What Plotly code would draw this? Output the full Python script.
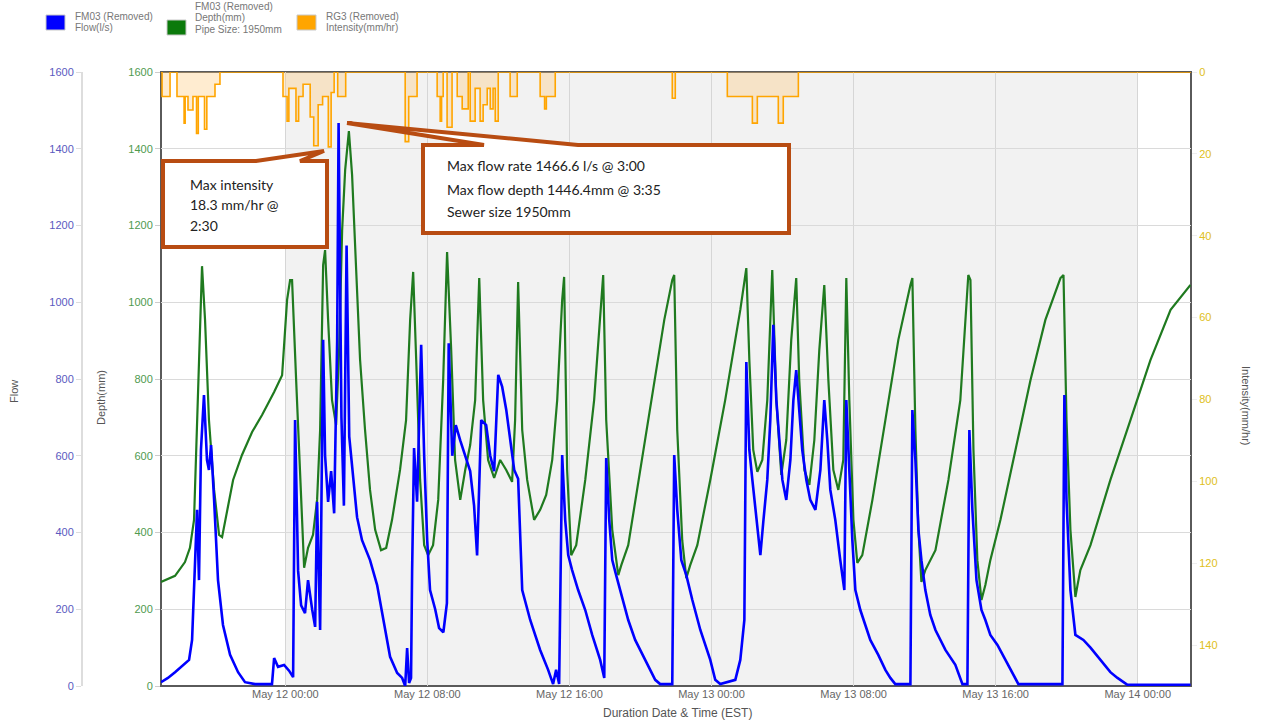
import pandas as pd
import plotly.graph_objects as go

# ---------------- data ----------------
START = "2019-05-11 17:00"          # time origin for the hour offsets below
END = "2019-05-14 03:00"
BAND = ["2019-05-12 00:00", "2019-05-14 00:00"]

depth_hours = [0.00, 0.79, 1.35, 1.63, 1.86, 2.03, 2.20, 2.31, 2.48, 2.70, 2.99, 3.27, 3.44, 3.72, 4.06, 4.56,
               5.13, 5.69, 6.37, 6.82, 7.10, 7.27, 7.38, 7.61, 7.83, 8.06, 8.28, 8.56, 8.79, 8.96, 9.13, 9.24,
               9.41, 9.63, 9.86, 10.03, 10.20, 10.37, 10.58, 10.76, 10.99, 11.21, 11.49, 11.77, 12.06, 12.39,
               12.68, 13.01, 13.46, 13.80, 14.03, 14.20, 14.37, 14.59, 14.82, 15.04, 15.32, 15.61, 15.89, 16.11,
               16.34, 16.56, 16.85, 17.13, 17.41, 17.69, 17.92, 18.14, 18.42, 18.76, 19.10, 19.44, 19.77, 19.94,
               20.11, 20.34, 20.62, 21.01, 21.35, 21.69, 22.03, 22.31, 22.59, 22.70, 22.87, 23.10, 23.38, 23.89,
               24.39, 24.73, 24.90, 25.07, 25.41, 25.75, 25.92, 26.31, 26.99, 27.66, 28.34, 28.79, 28.90, 29.07,
               29.35, 29.58, 29.80, 30.20, 30.93, 31.77, 32.62, 32.96, 33.13, 33.35, 33.58, 33.86, 34.14, 34.42,
               34.65, 34.93, 35.21, 35.49, 35.77, 35.94, 36.23, 36.51, 36.79, 37.07, 37.35, 37.58, 37.86, 38.14,
               38.42, 38.59, 38.76, 38.99, 39.21, 39.49, 40.06, 40.79, 41.52, 42.20, 42.31, 42.48, 42.65, 42.82,
               43.04, 43.61, 44.34, 45.01, 45.46, 45.58, 45.75, 45.97, 46.20, 46.42, 46.70, 47.27, 48.11, 48.96,
               49.80, 50.65, 50.82, 50.99, 51.21, 51.49, 51.61, 51.77, 52.34, 53.46, 54.59, 55.72, 56.85, 57.97]
depth_mm = [271, 287, 323, 360, 433, 693, 980, 1094, 954, 693, 511, 394, 388, 459, 537, 602,
            662, 706, 766, 810, 1006, 1058, 1058, 797, 537, 308, 360, 394, 485, 667, 1097, 1136,
            954, 745, 680, 876, 1188, 1345, 1446, 1332, 1084, 850, 667, 511, 407, 354,
            360, 433, 563, 693, 954, 1079, 850, 537, 367, 341, 367, 485, 797, 1131,
            876, 589, 485, 563, 628, 745, 1063, 745, 589, 542, 589, 563, 532, 693,
            1053, 667, 537, 433, 459, 498, 589, 745, 1006, 1066, 563, 341, 367, 537,
            745, 954, 1071, 693, 407, 289, 315, 367, 563, 758, 954, 1058, 1071, 667,
            380, 281, 315, 367, 537, 745, 980, 1089, 850, 615, 558, 589, 745, 1084,
            745, 550, 641, 902, 1063, 797, 563, 524, 641, 876, 1045, 797, 563, 511,
            589, 1063, 745, 433, 321, 341, 485, 693, 902, 1045, 1063, 667, 407, 271,
            302, 354, 537, 745, 1071, 1058, 615, 328, 224, 263, 328, 433, 615, 797,
            954, 1063, 1071, 693, 407, 232, 263, 302, 367, 537, 693, 850, 980, 1045]

flow_hours = [0.00, 0.39, 0.79, 1.07, 1.35, 1.58, 1.75, 1.92, 2.03, 2.14, 2.25, 2.42, 2.59, 2.70, 2.82, 2.99,
              3.21, 3.49, 3.89, 4.34, 4.73, 5.30, 5.86, 6.25, 6.37, 6.59, 6.93, 7.21, 7.44, 7.55, 7.72, 7.89,
              8.11, 8.28, 8.51, 8.68, 8.79, 8.96, 9.13, 9.24, 9.41, 9.58, 9.75, 9.92, 10.00, 10.16, 10.30, 10.45,
              10.60, 10.82, 11.04, 11.32, 11.77, 12.17, 12.51, 12.90, 13.30, 13.58, 13.75, 13.86, 13.97, 14.08,
              14.14, 14.25, 14.42, 14.65, 14.82, 14.99, 15.15, 15.44, 15.66, 15.90, 16.10, 16.20, 16.40, 16.60,
              16.85, 17.13, 17.41, 17.63, 17.80, 18.03, 18.31, 18.54, 18.76, 18.99, 19.21, 19.44, 19.66, 19.89,
              20.11, 20.34, 20.79, 21.35, 21.80, 22.08, 22.25, 22.42, 22.59, 22.76, 22.93, 23.15, 23.49, 23.89,
              24.28, 24.73, 24.96, 25.07, 25.24, 25.41, 25.63, 25.86, 26.31, 26.70, 27.27, 27.83, 28.11, 28.79,
              28.90, 29.07, 29.30, 29.58, 29.92, 30.37, 30.93, 31.21, 31.49, 32.34, 32.62, 32.85, 32.96, 33.13,
              33.30, 33.41, 33.58, 33.75, 33.92, 34.14, 34.31, 34.48, 34.65, 34.82, 34.99, 35.21, 35.44, 35.61,
              35.77, 35.94, 36.11, 36.34, 36.56, 36.85, 37.13, 37.35, 37.52, 37.69, 37.97, 38.25, 38.48, 38.59,
              38.76, 38.93, 39.10, 39.38, 39.66, 39.94, 40.39, 40.79, 41.07, 41.35, 42.20, 42.31, 42.48, 42.65,
              42.82, 43.04, 43.32, 43.61, 44.17, 44.73, 45.13, 45.41, 45.52, 45.69, 45.92, 46.20, 46.42, 46.70,
              47.10, 47.55, 47.94, 48.28, 50.76, 50.87, 50.99, 51.21, 51.49, 51.94, 52.34, 52.90, 53.46, 53.86,
              54.42, 57.97]
flow_ls = [10, 21, 36, 47, 57, 68, 120, 328, 459, 276, 615, 758, 589, 563, 628, 485,
           276, 159, 81, 36, 10, 5, 5, 5, 73, 50, 55, 40, 23, 693, 300, 210,
           190, 276, 200, 154, 480, 146, 902, 600, 480, 560, 450, 900, 1467, 700, 470, 1148,
           650, 540, 440, 380, 328, 263, 180, 76, 34, 21, 0, 99, 8, 21,
           300, 620, 480, 889, 600, 380, 250, 200, 151, 140, 216, 893, 600, 680,
           640, 600, 560, 470, 340, 693, 680, 600, 560, 811, 780, 720, 640, 563,
           540, 250, 172, 94, 42, 5, 42, 5, 602, 433, 341, 302, 250, 198,
           133, 68, 21, 594, 433, 328, 289, 250, 172, 120, 68, 16, 5, 5,
           602, 459, 328, 289, 224, 146, 68, 16, 5, 16, 68, 172, 844, 615,
           537, 485, 407, 341, 430, 537, 693, 941, 745, 641, 537, 485, 589, 745,
           823, 719, 615, 537, 485, 459, 563, 745, 641, 511, 433, 328, 250, 745,
           563, 380, 250, 198, 159, 120, 81, 42, 21, 5, 5, 719, 589, 407,
           328, 250, 185, 146, 94, 55, 5, 5, 667, 459, 276, 198, 172, 133,
           107, 68, 36, 5, 5, 758, 485, 250, 133, 120, 100, 68, 36, 21,
           3, 3]

rain_hours = [0.00, 0.06, 0.51, 0.90, 1.30, 1.36, 1.52, 1.80, 2.00, 2.10, 2.45, 2.58, 3.04, 3.32,
              6.87, 7.10, 7.20, 7.60, 7.75, 8.00, 8.40, 8.60, 8.85, 9.10, 9.42, 9.58, 9.75, 9.95, 10.40,
              13.75, 13.95, 14.42, 15.55, 15.72, 15.80, 15.89, 16.11, 16.39, 16.68, 16.96, 17.30, 17.41,
              17.69, 17.97, 18.14, 18.37, 18.54, 18.70, 18.82, 18.99, 19.66, 20.06, 21.35, 21.60, 21.70,
              22.20, 28.79, 28.96, 31.89, 33.30, 33.58, 34.76, 35.04, 35.89, 58.00]
rain_mmhr = [0, 6, 0, 6, 12.5, 6, 9.3, 6, 15, 6, 14, 6, 3, 0,
             6, 12, 4, 12, 6, 3, 11, 18, 8, 6, 18.3, 5, 0, 6, 0,
             17, 6, 0, 6, 12, 6, 0, 13.5, 0, 6, 9, 0, 12,
             4, 12, 8, 4, 9, 4, 12, 0, 6, 0, 6, 9, 6,
             0, 6.4, 0, 6, 12.5, 6, 12.5, 6, 0, 0]

# ---------------- layout geometry (page pixels) ----------------
W, H = 1264, 724
PL, PR, PT, PB = 161, 1191, 72, 686


def px(x):
    return x / W


def py(y):
    return (PB - y) / (PB - PT)


t0 = pd.Timestamp(START)


def to_time(hours):
    return [t0 + pd.Timedelta(hours=h) for h in hours]


BLUE = "#0000ff"
GREEN = "#1f7a1f"
ORANGE = "#ffa500"
RUST = "#b84c12"

fig = go.Figure()
fig.add_trace(go.Scatter(x=to_time(depth_hours), y=depth_mm, mode="lines", yaxis="y",
                         line=dict(color=GREEN, width=2.2), name="Depth(mm)"))
fig.add_trace(go.Scatter(x=to_time(flow_hours), y=flow_ls, mode="lines", yaxis="y2",
                         line=dict(color=BLUE, width=2.6), name="Flow(l/s)"))
fig.add_trace(go.Scatter(x=to_time(rain_hours), y=rain_mmhr, mode="lines", yaxis="y3",
                         line=dict(color=ORANGE, width=1.6, shape="hv"), fill="tozeroy",
                         fillcolor="rgba(255,200,120,0.35)", name="Intensity(mm/hr)"))

tickfont = dict(family="Liberation Sans, Arial, sans-serif", size=11)

fig.update_layout(
    width=W, height=H,
    margin=dict(l=0, r=0, t=PT, b=H - PB, autoexpand=False),
    paper_bgcolor="white", plot_bgcolor="white",
    showlegend=False,
    xaxis=dict(domain=[px(PL), px(PR)], range=[START, END], type="date",
               tick0=BAND[0], dtick=8 * 3600 * 1000, tickformat="%b %d %H:%M",
               showgrid=True, gridcolor="#d6d6d6", gridwidth=1, zeroline=False,
               showline=False, ticks="", tickfont=dict(tickfont, color="#666666"), automargin=False),
    yaxis=dict(range=[0, 1600], dtick=200, showgrid=True, gridcolor="#dadada", zeroline=False,
               ticks="outside", ticklen=5, tickcolor="#cccccc", showline=False,
               tickfont=dict(tickfont, color="#4f9a4f"), automargin=False),
    yaxis2=dict(range=[0, 1600], dtick=200, overlaying="y", anchor="free", position=px(82), side="left",
                showgrid=False, zeroline=False, showline=True, linecolor="#dddddd", linewidth=2,
                ticks="outside", ticklen=5, tickcolor="#dddddd",
                tickfont=dict(tickfont, color="#5a5ac0"), automargin=False),
    yaxis3=dict(range=[150, 0], dtick=20, overlaying="y", anchor="x", side="right",
                showgrid=False, zeroline=False, showline=False,
                ticks="outside", ticklen=5, tickcolor="#eeeeee",
                tickfont=dict(tickfont, color="#e0c020"), automargin=False),
)

shapes = []
# shaded period band
shapes.append(dict(type="rect", xref="x", yref="paper", x0=BAND[0], x1=BAND[1], y0=0, y1=1,
                   fillcolor="#f2f2f2", line=dict(width=0), layer="below"))
# plot frame
shapes.append(dict(type="rect", xref="paper", yref="paper", x0=px(PL), x1=px(PR), y0=0, y1=1,
                   line=dict(color="#5a5a5a", width=2), fillcolor="rgba(0,0,0,0)", layer="between"))


def callout(left, top, right, bottom, b1, b2, ax, ay):
    pts = [(left, top), (b1, top), (ax, ay), (b2, top), (right, top), (right, bottom), (left, bottom)]
    path = "M " + " L ".join(f"{px(x):.5f},{py(y):.5f}" for x, y in pts) + " Z"
    return dict(type="path", xref="paper", yref="paper", path=path, fillcolor="white",
                line=dict(color=RUST, width=4), layer="above")


shapes.append(callout(163, 161, 327, 247, 256, 300, 324, 151))
shapes.append(callout(423, 145, 789, 233, 484, 578, 347, 123))

# legend squares
for x0, y0, c in [(46, 15, BLUE), (167, 20, "#0b7a0b"), (297, 15, ORANGE)]:
    shapes.append(dict(type="rect", xref="paper", yref="paper", x0=px(x0), x1=px(x0 + 19),
                       y0=py(y0 + 15), y1=py(y0), fillcolor=c, line=dict(color="#c8c8c8", width=1)))
fig.update_layout(shapes=shapes)

annotations = []


def ann(x, y, text, size=11, color="#555555", xanchor="left", angle=0, family="Liberation Sans, Arial, sans-serif"):
    annotations.append(dict(x=px(x), y=py(y), xref="paper", yref="paper", text=text, showarrow=False,
                            xanchor=xanchor, yanchor="middle", textangle=angle,
                            font=dict(family=family, size=size, color=color)))


# legend text
ann(73, 17, "FM03 (Removed)", 10, "#777777")
ann(73, 28, "Flow(l/s)", 10, "#777777")
ann(193, 7, "FM03 (Removed)", 10, "#777777")
ann(193, 18, "Depth(mm)", 10, "#777777")
ann(193, 30, "Pipe Size: 1950mm", 10, "#777777")
ann(324, 17, "RG3 (Removed)", 10, "#777777")
ann(324, 28, "Intensity(mm/hr)", 10, "#777777")

# axis titles
ann(14, 392, "Flow", 11, "#555555", "center", -90)
ann(101, 398, "Depth(mm)", 11, "#555555", "center", -90)
ann(1246, 405, "Intensity(mm/hr)", 11, "#555555", "center", 90)
ann(677, 713, "Duration Date & Time (EST)", 12, "#555555", "center")

# callout texts
cf = "Lato, Open Sans, sans-serif"
ann(188, 184, "Max intensity", 14, "#222222", family=cf)
ann(188, 204, "18.3 mm/hr @", 14, "#222222", family=cf)
ann(188, 225, "2:30", 14, "#222222", family=cf)
ann(445, 166, "Max flow rate 1466.6 l/s @ 3:00", 14, "#222222", family=cf)
ann(445, 189, "Max flow depth 1446.4mm @ 3:35", 14, "#222222", family=cf)
ann(445, 211, "Sewer size 1950mm", 14, "#222222", family=cf)

fig.update_layout(annotations=annotations)

fig.write_html("out.html", config={"displayModeBar": False},
               post_script="document.body.style.margin='0px';document.body.style.overflow='hidden';")
